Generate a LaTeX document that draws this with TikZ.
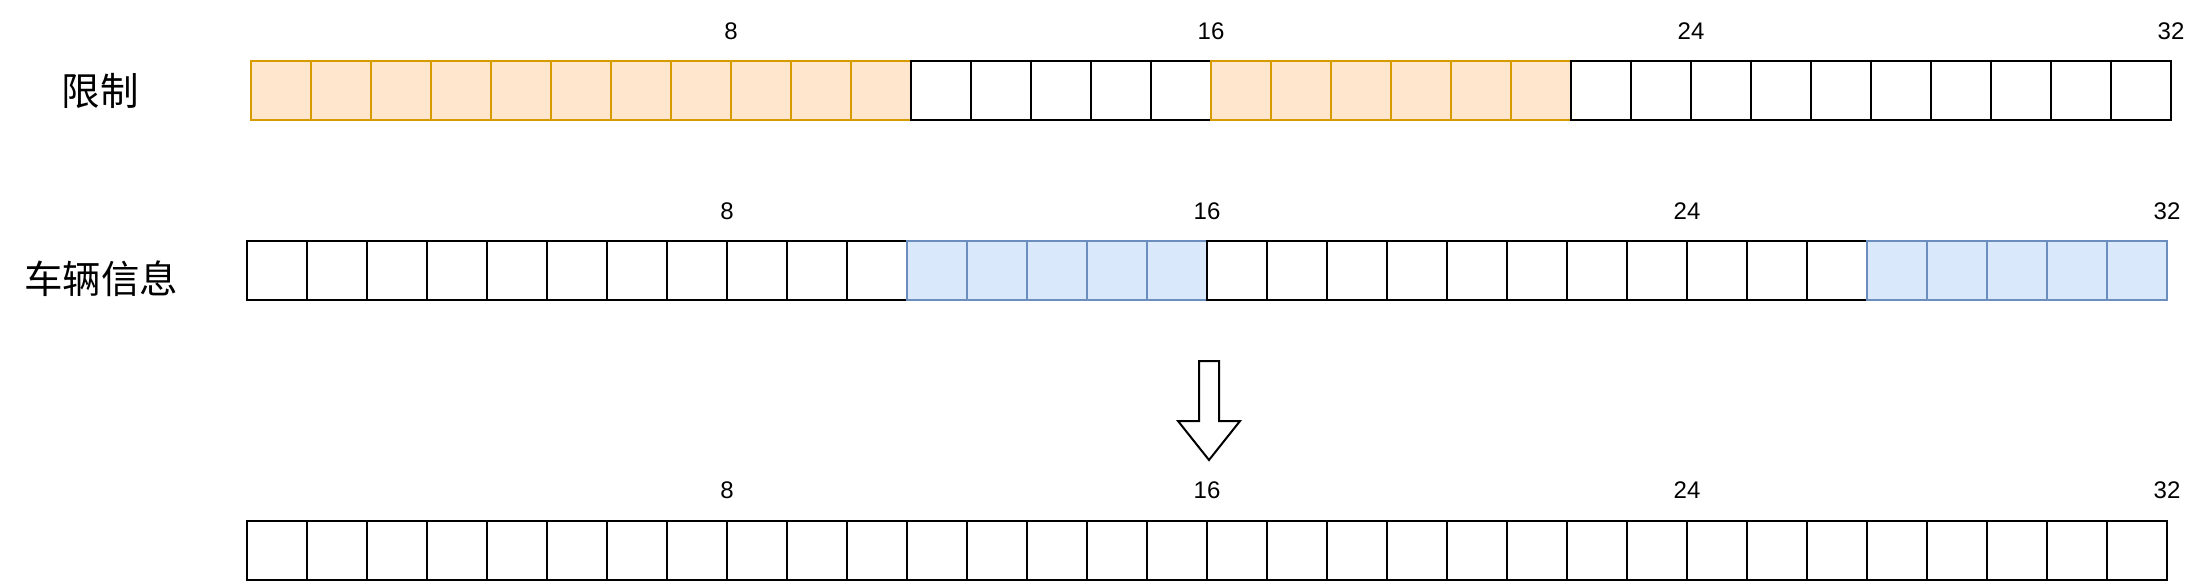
\documentclass[tikz,border=0pt]{standalone}
\usepackage{fontspec}
\setmainfont{Liberation Sans}
\newfontfamily\cjk{Noto Sans CJK SC}
\usetikzlibrary{calc}
\definecolor{ofill}{HTML}{FFE6CC}
\definecolor{ostroke}{HTML}{D79B00}
\definecolor{bfill}{HTML}{DAE8FC}
\definecolor{bstroke}{HTML}{6C8EBF}
\begin{document}
\begin{tikzpicture}[x=1pt,y=-1pt,
  cell/.style={draw=black,fill=white,line width=2pt,minimum width=60pt,minimum height=59pt,inner sep=0pt,outer sep=0pt},
  ocell/.style={cell,draw=ostroke,fill=ofill},
  bcell/.style={cell,draw=bstroke,fill=bfill},
  num/.style={font=\fontsize{24}{28}\selectfont,inner sep=0pt},
  rowtitle/.style={font=\cjk\fontsize{38.5}{42}\selectfont,inner sep=0pt},
  bigarrow/.style={draw=black,fill=white,line width=2pt,line join=miter}]
\useasboundingbox (0,0) rectangle (2212,584);
% row 1
\foreach \i in {0,...,31}{
  \ifnum\i<11 \def\st{ocell}\else\ifnum\i<16 \def\st{cell}\else\ifnum\i<22 \def\st{ocell}\else\def\st{cell}\fi\fi\fi
  \node[\st] (a\i) at ({251+60*\i+30},90.5) {};
}
% row 2
\foreach \i in {0,...,31}{
  \ifnum\i<11 \def\st{cell}\else\ifnum\i<16 \def\st{bcell}\else\ifnum\i<27 \def\st{cell}\else\def\st{bcell}\fi\fi\fi
  \node[\st] (b\i) at ({247+60*\i+30},270.5) {};
}
% row 3
\foreach \i in {0,...,31}{
  \node[cell] (c\i) at ({247+60*\i+30},550.5) {};
}
% numbers
\foreach \k/\n in {7/8,15/16,23/24,31/32}{
  \node[num] (na\n) at ($(a\k.north east)+(0,-30)$) {\n};
  \node[num] (nb\n) at ($(b\k.north east)+(0,-30)$) {\n};
  \node[num] (nc\n) at ($(c\k.north east)+(0,-31)$) {\n};
}
% titles
\node[rowtitle] (t1) at (100,90.5) {限制};
\node[rowtitle] (t2) at (101,279) {车辆信息};
% big arrow
\draw[bigarrow] (1199,361) -- (1219,361) -- (1219,421) -- (1240,421) -- (1209,460) -- (1178,421) -- (1199,421) -- cycle;
\end{tikzpicture}
\end{document}
